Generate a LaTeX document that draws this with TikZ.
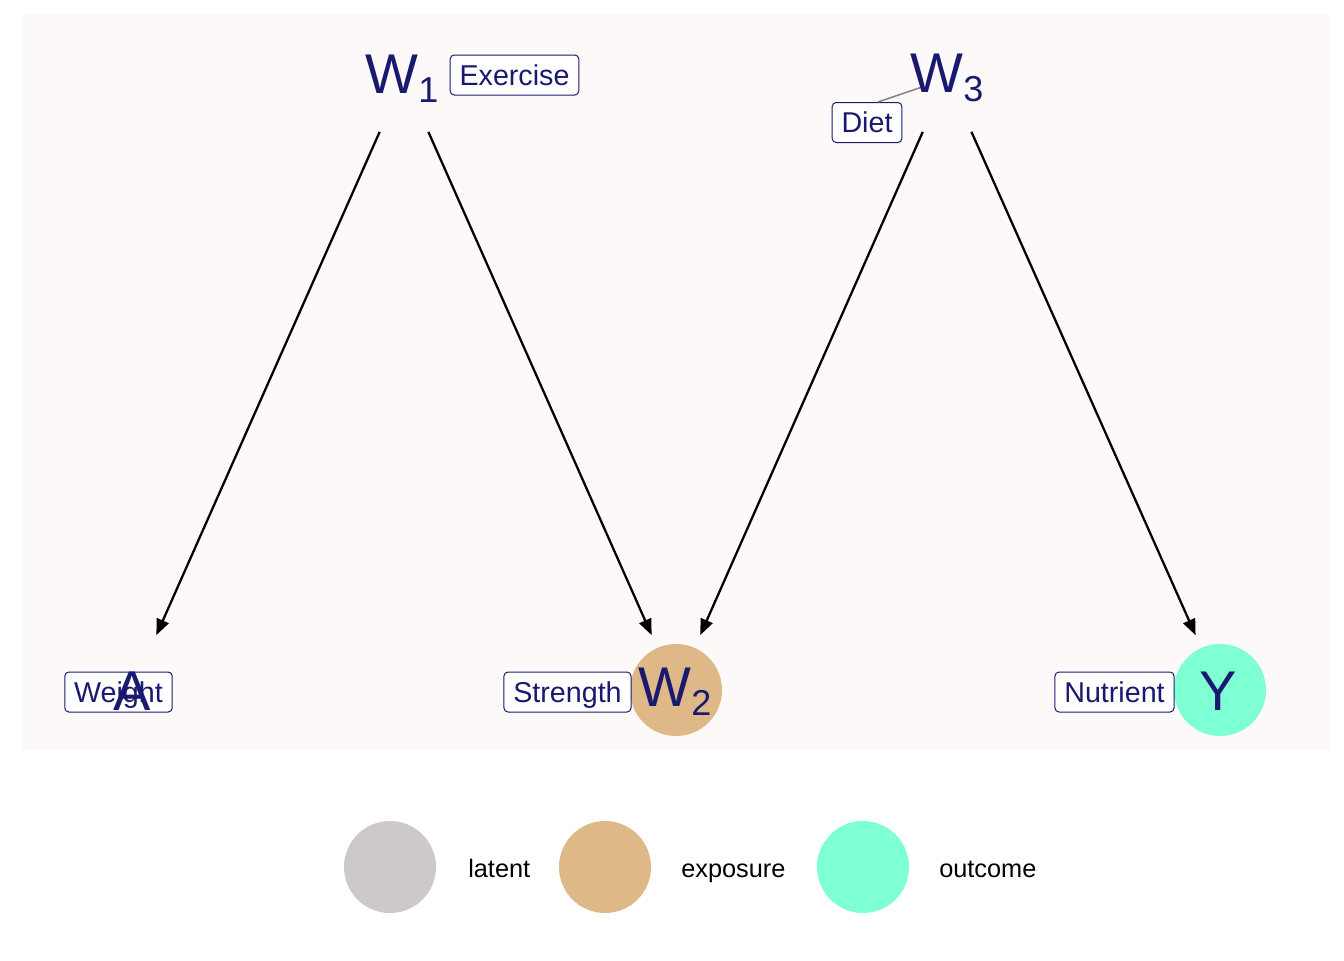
\documentclass[tikz,border=0pt]{standalone}
\usepackage{fontspec}
\setmainfont{Liberation Sans}
\usetikzlibrary{arrows.meta}
\definecolor{midblue}{HTML}{191970}
\definecolor{burly}{HTML}{DEB887}
\definecolor{aqua}{HTML}{7FFFD4}
\definecolor{snowgray}{HTML}{CDC9C9}
\definecolor{panel}{HTML}{FDF9F8}
\newcommand{\sbs}[1]{\raisebox{-7pt}{\fontsize{27}{30}\selectfont #1}}
\tikzset{
 dagnode/.style={circle, minimum size=69pt, inner sep=0pt, outer sep=0pt},
 vlab/.style={text=midblue, font=\fontsize{42}{48}\selectfont, inner sep=0pt, anchor=base},
 tagbox/.style={draw=midblue, line width=0.75pt, fill=white, rounded corners=3pt, text=midblue,
   font=\fontsize{21.5}{25}\selectfont, inner xsep=7pt, inner ysep=3.5pt, text height=19pt, text depth=4pt},
 arr/.style={-{Triangle[length=12pt,width=9.5pt]}, line width=1.7pt, shorten <=10.5pt, shorten >=10.5pt},
 repel/.style={draw=gray, line width=1.1pt},
 legkey/.style={circle, minimum size=69pt, inner sep=0pt, outer sep=0pt},
 legtext/.style={font=\fontsize{19}{22}\selectfont, anchor=base west, inner sep=0pt}
}
\begin{document}
\begin{tikzpicture}[x=0.75pt,y=-0.75pt]
\useasboundingbox (0,0) rectangle (1344,960);
\fill[white] (0,0) rectangle (1344,960);
\fill[panel] (23,15) rectangle (1329,751);
% DAG nodes
\node[dagnode] (W1) at (404,77) {};
\node[dagnode] (W3) at (947,77) {};
\node[dagnode] (A) at (132,690) {};
\node[dagnode, fill=burly] (W2) at (676,690) {};
\node[dagnode, fill=aqua] (Y) at (1220,690) {};
% edges
\draw[arr] (W1) -- (A);
\draw[arr] (W1) -- (W2);
\draw[arr] (W3) -- (W2);
\draw[arr] (W3) -- (Y);
% labels
\node[tagbox] (Exercise) at (514.5,75) {Exercise};
\node[tagbox] (Diet) at (867,122.5) {Diet};
\coordinate (dietend) at (922,87);
\draw[repel] ([xshift=8.25pt]Diet.north) -- (dietend);
\node[tagbox] (Weight) at (118.5,692) {Weight};
\node[tagbox] (Strength) at (567.5,692) {Strength};
\node[tagbox] (Nutrient) at (1114.5,692) {Nutrient};
% node texts
\node[vlab] (W1t) at (402,93) {W\sbs{1}};
\node[vlab] (W3t) at (947,92) {W\sbs{3}};
\node[vlab] (At) at (132.5,710) {A};
\node[vlab] (W2t) at (675,706) {W\sbs{2}};
\node[vlab] (Yt) at (1218.5,710) {Y};
% legend
\node[legkey, fill=snowgray] (Klat) at (390,867) {};
\node[legkey, fill=burly] (Kexp) at (605,867) {};
\node[legkey, fill=aqua] (Kout) at (863,867) {};
\node[legtext] (Tlat) at (468,877) {latent};
\node[legtext] (Texp) at (681,877) {exposure};
\node[legtext] (Tout) at (939,877) {outcome};
\end{tikzpicture}
\end{document}
